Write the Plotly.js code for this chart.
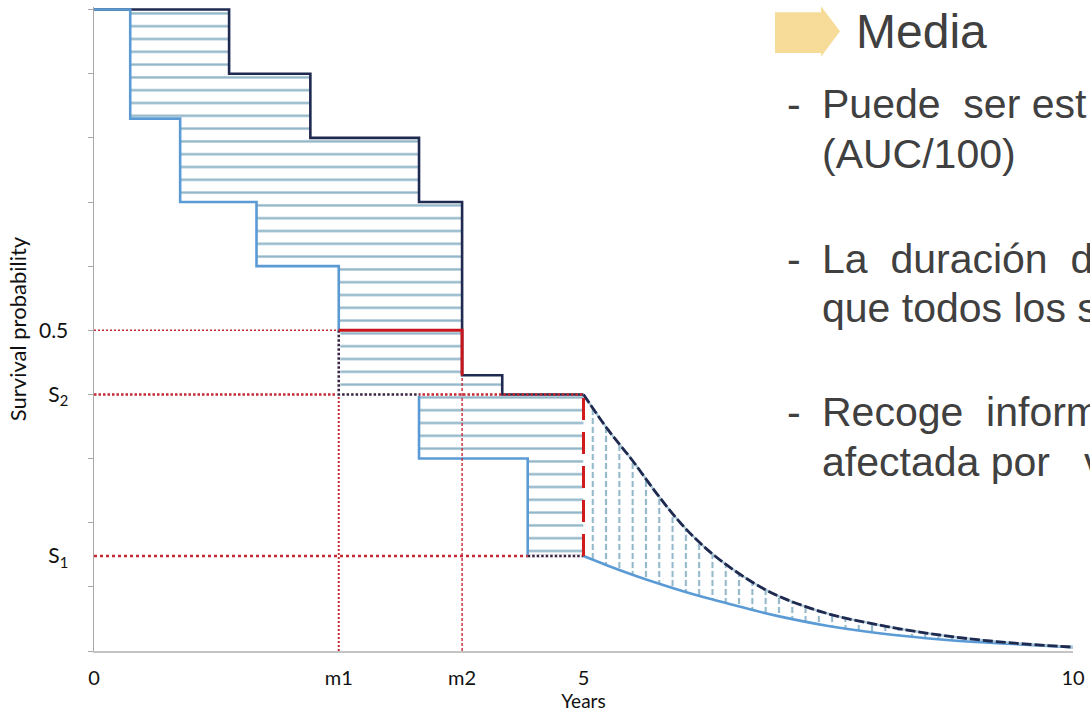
<!DOCTYPE html>
<html>
<head>
<meta charset="utf-8">
<script src="https://cdn.plot.ly/plotly-3.0.1.min.js"></script>
<style>
  html, body { margin: 0; padding: 0; background: #ffffff; }
  #chart { width: 1090px; height: 723px; }
</style>
</head>
<body>
<div id="chart"></div>
<script>
// Step survival curves of the two groups (years, survival probability)
const lowerStepYears = [0, 0.37, 0.88, 1.66, 2.50, 3.32, 4.43, 5];
const lowerStepSurv  = [1.0, 0.83, 0.70, 0.60, 0.40, 0.30, 0.148, 0.148];
const upperStepYears = [0, 1.38, 2.21, 3.32, 3.76, 4.17, 5];
const upperStepSurv  = [1.0, 0.90, 0.80, 0.70, 0.43, 0.40, 0.40];

// Smooth tails beyond the 5-year horizon
const tailYears     = [5, 5.25, 5.5, 5.75, 6, 6.25, 6.5, 6.75, 7, 7.5, 8, 8.5, 9, 9.5, 10];
const upperTailSurv = [0.400, 0.345, 0.297, 0.245, 0.198, 0.160, 0.130, 0.105, 0.085, 0.058, 0.041, 0.028, 0.018, 0.011, 0.006];
const lowerTailSurv = [0.148, 0.133, 0.119, 0.106, 0.094, 0.083, 0.073, 0.063, 0.054, 0.039, 0.028, 0.020, 0.014, 0.010, 0.006];

// Reference quantities
const medianSurv = 0.5;
const horizon = 5;
const m1 = lowerStepYears[4];      // lower curve reaches 0.5
const m2 = upperStepYears[4];      // upper curve reaches 0.5
const S2 = upperStepSurv[5];       // upper curve at 5 years
const S1 = lowerStepSurv[6];       // lower curve at 5 years

const xTickVals = [0, m1, m2, horizon, 10];
const xTickText = ['0', 'm1', 'm2', '5', '10'];
const yTickVals = [medianSurv, S2, S1];
const yTickText = ['0.5', 'S<sub>2</sub>', 'S<sub>1</sub>'];

const NAVY = '#1f2a50';
const LIGHT = '#5b9bd5';
const HATCH = '#8fb4c6';
const RED = '#c8141c';
const DOTRED = '#c42a35';
const CLEAR = 'rgba(0,0,0,0)';

const traces = [];
const base = { mode: 'lines', hoverinfo: 'skip', showlegend: false };

// Horizontal hatching between the two step curves
traces.push(Object.assign({}, base, { x: lowerStepYears, y: lowerStepSurv, line: { width: 0, shape: 'hv' } }));
traces.push(Object.assign({}, base, {
  x: upperStepYears, y: upperStepSurv, line: { width: 0, shape: 'hv' },
  fill: 'tonexty', fillcolor: CLEAR,
  fillpattern: { shape: '-', size: 12.8, solidity: 0.18, fgcolor: HATCH, bgcolor: CLEAR }
}));

// Vertical hatching between the tails
traces.push(Object.assign({}, base, { x: tailYears, y: lowerTailSurv, line: { width: 0, shape: 'spline' } }));
traces.push(Object.assign({}, base, {
  x: tailYears, y: upperTailSurv, line: { width: 0, shape: 'spline' },
  fill: 'tonexty', fillcolor: CLEAR,
  fillpattern: { shape: '|', size: 13.3, solidity: 0.16, fgcolor: '#92b8ca', bgcolor: CLEAR }
}));
// white stripes break the vertical hatching into dashes
traces.push(Object.assign({}, base, { x: tailYears, y: lowerTailSurv, line: { width: 0, shape: 'spline' } }));
traces.push(Object.assign({}, base, {
  x: tailYears, y: upperTailSurv, line: { width: 0, shape: 'spline' },
  fill: 'tonexty', fillcolor: CLEAR,
  fillpattern: { shape: '-', size: 9, solidity: 0.32, fgcolor: '#ffffff', bgcolor: CLEAR }
}));

// Curves
traces.push(Object.assign({}, base, { x: upperStepYears, y: upperStepSurv, line: { color: NAVY, width: 2.6, shape: 'hv' } }));
traces.push(Object.assign({}, base, { x: lowerStepYears, y: lowerStepSurv, line: { color: LIGHT, width: 2.6, shape: 'hv' } }));
traces.push(Object.assign({}, base, { x: tailYears, y: lowerTailSurv, line: { color: LIGHT, width: 2.6, shape: 'spline' } }));
traces.push(Object.assign({}, base, { x: tailYears, y: upperTailSurv, line: { color: '#a9c6d4', width: 2.2, shape: 'spline' } }));
traces.push(Object.assign({}, base, { x: tailYears, y: upperTailSurv, line: { color: NAVY, width: 2.8, shape: 'spline', dash: '10px,3px' } }));

// Red dotted guides
traces.push(Object.assign({}, base, { x: [0, m1], y: [medianSurv, medianSurv], line: { color: DOTRED, width: 1.4, dash: '2px,2px' } }));
traces.push(Object.assign({}, base, { x: [m2, m2], y: [0, upperStepSurv[4]], line: { color: DOTRED, width: 1.4, dash: '3px,2px' } }));
traces.push(Object.assign({}, base, { x: [m1, m1], y: [0, S2], line: { color: DOTRED, width: 2, dash: '2px,2px' } }));
traces.push(Object.assign({}, base, { x: [0, horizon], y: [S2, S2], line: { color: DOTRED, width: 2.6, dash: '2.5px,2px' } }));
traces.push(Object.assign({}, base, { x: [0, horizon], y: [S1, S1], line: { color: DOTRED, width: 2.6, dash: '3px,3px' } }));

// Lower-curve pieces lying on the guides are drawn dotted
const dottedX = [m1, m1, lowerStepYears[5], null, lowerStepYears[6], horizon];
const dottedY = [medianSurv, S2, S2, null, S1, S1];
traces.push(Object.assign({}, base, { x: dottedX, y: dottedY, line: { color: '#ffffff', width: 3.2 } }));
traces.push(Object.assign({}, base, { x: dottedX, y: dottedY, line: { color: '#3a2440', width: 2.5, dash: '2.5px,2px' } }));

// Median segment
traces.push(Object.assign({}, base, { x: [m1, m2, m2], y: [medianSurv, medianSurv, upperStepSurv[4]], line: { color: RED, width: 3 } }));
// 5-year gap
traces.push(Object.assign({}, base, { x: [horizon, horizon], y: [S1, S2], line: { color: '#d01c1c', width: 3, dash: '22px,12px' } }));

// Layout geometry
const W = 1090, H = 723;
const margin = { l: 94, r: 17, t: 7.4, b: 72 };
const plotW = W - margin.l - margin.r;
const plotH = H - margin.t - margin.b;
const px = v => (v - margin.l) / plotW;
const py = v => (H - margin.b - v) / plotH;

const TEXT = '#404040';
const textFont = { family: 'Liberation Sans, Arial, sans-serif', size: 41, color: TEXT };

function line(txt, x, baseline, size) {
  const f = Object.assign({}, textFont, { size: size || textFont.size });
  return {
    text: txt, xref: 'paper', yref: 'paper', x: px(x), y: py(baseline - 0.35 * f.size),
    xanchor: 'left', yanchor: 'middle', showarrow: false, font: f
  };
}

const annotations = [
  line('Media', 854, 48.3, 48),
  line('-', 785, 118.3),
  line('Puede\u00a0\u00a0ser est', 820, 118.3),
  line('(AUC/100)', 820, 168.3),
  line('-', 785, 273.3),
  line('La\u00a0\u00a0duración\u00a0\u00a0d', 820, 273.3),
  line('que todos los s', 820, 322.7),
  line('-', 785, 426),
  line('Recoge\u00a0\u00a0inform', 820, 426),
  line('afectada por\u00a0\u00a0\u00a0v', 820, 476.7)
];

// Arrow icon before the heading
const P = (x, y) => px(x) + ',' + py(y);
const arrowPath = 'M' + P(775, 12.7) + ' L' + P(821, 12.7) + ' L' + P(821, 6.7) + ' L' + P(840, 31.7) +
  ' L' + P(821, 57) + ' L' + P(821, 53.3) + ' L' + P(775, 53.3) + ' Z';

const AXIS_FONT = 'Lato, sans-serif';
const layout = {
  width: W, height: H,
  margin: margin,
  paper_bgcolor: '#ffffff', plot_bgcolor: '#ffffff',
  showlegend: false,
  xaxis: {
    range: [0, 10], showgrid: false, zeroline: false,
    showline: true, linecolor: '#c4c4c4', linewidth: 2,
    tickmode: 'array', tickvals: xTickVals, ticktext: xTickText, ticks: '',
    ticklabelstandoff: 8,
    tickfont: { family: AXIS_FONT, size: 20, color: '#111111' },
    title: { text: 'Years', font: { family: AXIS_FONT, size: 19, color: '#111111' }, standoff: 3 }
  },
  yaxis: {
    range: [0, 1.004], showgrid: false, zeroline: false,
    showline: true, linecolor: '#a8a8a8', linewidth: 1.5,
    tickmode: 'array', tickvals: yTickVals, ticktext: yTickText, ticks: '',
    ticklabelstandoff: 20,
    tickfont: { family: AXIS_FONT, size: 21, color: '#111111' },
    minor: { tickmode: 'linear', tick0: 0, dtick: 0.1, ticks: 'outside', ticklen: 5, tickcolor: '#a8a8a8', tickwidth: 1, showgrid: false },
    title: { text: 'Survival probability', font: { family: AXIS_FONT, size: 22, color: '#111111' }, standoff: 6 }
  },
  annotations: annotations,
  shapes: [{
    type: 'path', xref: 'paper', yref: 'paper', path: arrowPath,
    fillcolor: '#f6dc98', line: { width: 0 }, layer: 'above'
  }]
};

Plotly.newPlot('chart', traces, layout, { displayModeBar: false, staticPlot: true });
</script>
</body>
</html>
